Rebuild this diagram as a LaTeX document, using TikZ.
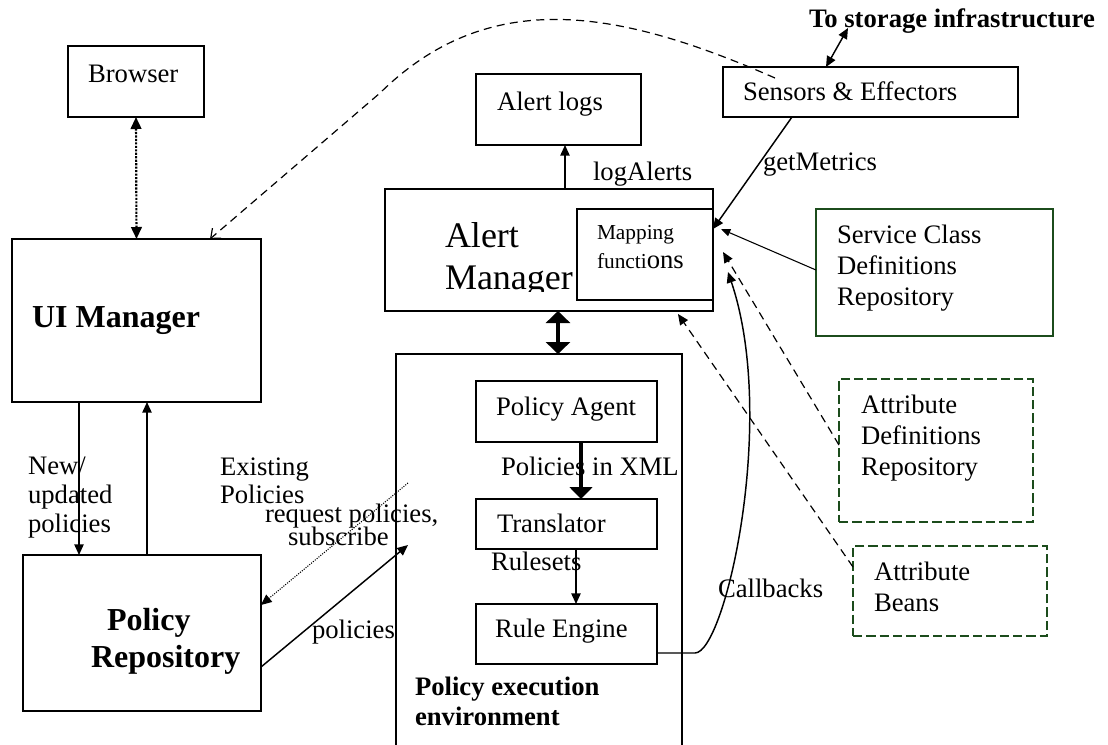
\documentclass[tikz,border=0pt]{standalone}
\usepackage{fontspec}
\setmainfont{Liberation Serif}
\usetikzlibrary{arrows.meta,fit}
\definecolor{dkgreen}{RGB}{28,76,28}
\begin{document}
\begin{tikzpicture}[x=0.75pt,y=-0.75pt,
  every node/.style={inner sep=0pt, outer sep=0pt},
  txt/.style={anchor=base west, font=\fontsize{20}{23}\selectfont, align=left},
  btxt/.style={anchor=base west, font=\fontsize{20}{22.5}\selectfont\bfseries, align=left},
  bigb/.style={anchor=base west, font=\fontsize{24}{28}\selectfont\bfseries},
  box/.style={draw, line width=1pt, inner sep=0pt},
  gbox/.style={draw=dkgreen, line width=1.3pt, inner sep=0pt},
  gdbox/.style={gbox, dash pattern=on 7pt off 3pt},
  arr/.style={line width=1.1pt, -{Triangle[length=8pt,width=7pt]}},
  thinarr/.style={line width=0.8pt, -{Triangle[length=7pt,width=5.5pt]}},
  dasharr/.style={line width=0.9pt, dash pattern=on 6pt off 4pt, -{Triangle[length=8pt,width=7pt]}},
  dblarr/.style={line width=1.1pt, {Triangle[length=8pt,width=7pt]}-{Triangle[length=8pt,width=7pt]}},
  fatdbl/.style={line width=2.3pt, {Triangle[length=9pt,width=18pt]}-{Triangle[length=9pt,width=18pt]}},
  fatarr/.style={line width=2.6pt, -{Triangle[length=9pt,width=17pt]}}
]
\useasboundingbox (0,0) rectangle (1108,744);
\clip (0,0) rectangle (1108,744);

% ---------- boxes ----------
\node[box, fit={(68,46) (204,117)}] (browser) {};
\node[box, fit={(12,239) (261,402)}] (uim) {};
\node[box, fit={(23,555) (261,711)}] (prepo) {};
\node[box, fit={(476,74) (641,145)}] (alogs) {};
\node[box, fit={(385,189) (713,311)}] (alertm) {};
\node[box, fit={(723,67) (1018,117)}] (sensors) {};
\node[gbox, fit={(816,209) (1053,336)}] (service) {};
\node[gdbox, fit={(839,379) (1033,522)}] (attrdef) {};
\node[gdbox, fit={(853,546) (1047,636)}] (beans) {};
\node[box, fit={(396,354) (682,760)}] (pee) {};
\node[box, fit={(476,381) (657,442)}] (pagent) {};
\node[box, fit={(476,499) (657,549)}] (transl) {};
\node[box, fit={(476,604) (657,664)}] (rengine) {};

% Alert Manager text (clipped at bottom)
\begin{scope}
\clip (385,189) rectangle (577,291);
\node[anchor=base west, font=\fontsize{27}{31}\selectfont] (amT1) at (445,247) {Alert};
\node[anchor=base west, font=\fontsize{27}{31}\selectfont] (amT2) at (445,289) {Manager};
\end{scope}
\node[box, fill=white, fit={(577,209) (713,300)}] (mapping) {};

% ---------- texts (multi-line nodes placed at the baseline of their last line) ----------
\node[txt] (browserT) at (88,82) {Browser};
\node[bigb] (uimT) at (32,327) {UI Manager};
\node[bigb] (prepoT1) at (107,630) {Policy};
\node[bigb] (prepoT2) at (91,667) {Repository};
\node[txt] (alogsT) at (497,110) {Alert logs};
\node[txt] (logalertsT) at (593,180) {logAlerts};
\node[anchor=base west, font=\fontsize{16}{21.75}\selectfont, align=left] (mappingT) at (597,268) {Mapping\\functi{\fontsize{20}{21.75}\selectfont ons}};
\node[txt] (sensorsT) at (743,100) {Sensors \& Effectors};
\node[btxt] (storageT) at (809,27) {To storage infrastructure};
\node[txt] (getmT) at (763,170) {getMetrics};
\node[txt, font=\fontsize{20}{23.25}\selectfont] (serviceT) at (837,305) {Service Class\\Definitions\\Repository};
\node[txt, font=\fontsize{20}{22.9}\selectfont] (attrdefT) at (861,475) {Attribute\\Definitions\\Repository};
\node[txt, font=\fontsize{20}{23.25}\selectfont] (beansT) at (874,611) {Attribute\\Beans};
\node[txt] (callbT) at (718,597) {Callbacks};
\node[txt] (pagentT) at (496,415) {Policy Agent};
\node[txt] (pxmlT) at (501,475) {Policies in XML};
\node[txt] (translT) at (497,532) {Translator};
\node[txt] (rulesetsT) at (491,570) {Rulesets};
\node[txt] (rengineT) at (495,637) {Rule Engine};
\node[btxt] (peeT) at (415,725) {Policy execution\\environment};
\node[txt, font=\fontsize{20}{21.4}\selectfont] (newT) at (28,532) {New/\\updated\\policies};
\node[txt, font=\fontsize{20}{21}\selectfont] (existT) at (220,503) {Existing\\Policies};
\node[txt] (reqT1) at (265,522) {request policies,};
\node[txt] (reqT2) at (288,545) {subscribe};
\node[txt] (polT) at (312,638) {policies};

% ---------- free ends ----------
\coordinate (seStart) at (775,78);
\coordinate (curveMid) at (380,93);
\coordinate (storage) at (848,28);
\coordinate (scIn) at (721,229);
\coordinate (adIn) at (723,252);
\coordinate (cbIn) at (728,272);
\coordinate (cbCorner) at (695,653);
\coordinate (abIn) at (678,314);
\coordinate (reqEnd) at (408,483);
\coordinate (polEnd) at (408,545);

% ---------- connectors ----------
\draw[line width=1.6pt, densely dotted, {Triangle[length=9pt,width=8pt]}-{Triangle[length=9pt,width=8pt]}] (browser.south) -- (uim.north);
\draw[line width=0.9pt, dash pattern=on 6pt off 4pt, -{Straight Barb[length=6pt,width=10pt]}]
  (seStart) .. controls (620,10) and (490,-15) .. (curveMid) -- (uim.north -| 210,0);
\draw[arr] (alertm.north -| 565,0) -- (alogs.south -| 565,0);
\draw[fatdbl] (alertm.south -| 558,0) -- (pee.north -| 558,0);
\draw[dblarr] (sensors.north -| 826,0) -- (storage);
\draw[arr] (sensors.south -| 792,0) -- (mapping.east |- 0,229);
\draw[thinarr] (service.west |- 0,270) -- (scIn);
\draw[dasharr] (attrdef.west |- 0,445) -- (adIn);
\draw[arr] (rengine.east |- 0,653) -- (cbCorner) .. controls (725,653) and (778,420) .. (cbIn);
\draw[dasharr] (beans.west |- 0,567) -- (abIn);
\draw[arr] (uim.south -| 79,0) -- (prepo.north -| 79,0);
\draw[arr] (prepo.north -| 147,0) -- (uim.south -| 147,0);
\draw[line width=0.8pt, densely dotted, -{Triangle[length=8pt,width=7pt]}] (reqEnd) -- (prepo.east |- 0,605);
\draw[arr] (prepo.east |- 0,667) -- (polEnd);
\draw[fatarr] (pagent.south -| 581,0) -- (transl.north -| 581,0);
\draw[arr] (transl.south -| 576,0) -- (rengine.north -| 576,0);
\end{tikzpicture}
\end{document}
